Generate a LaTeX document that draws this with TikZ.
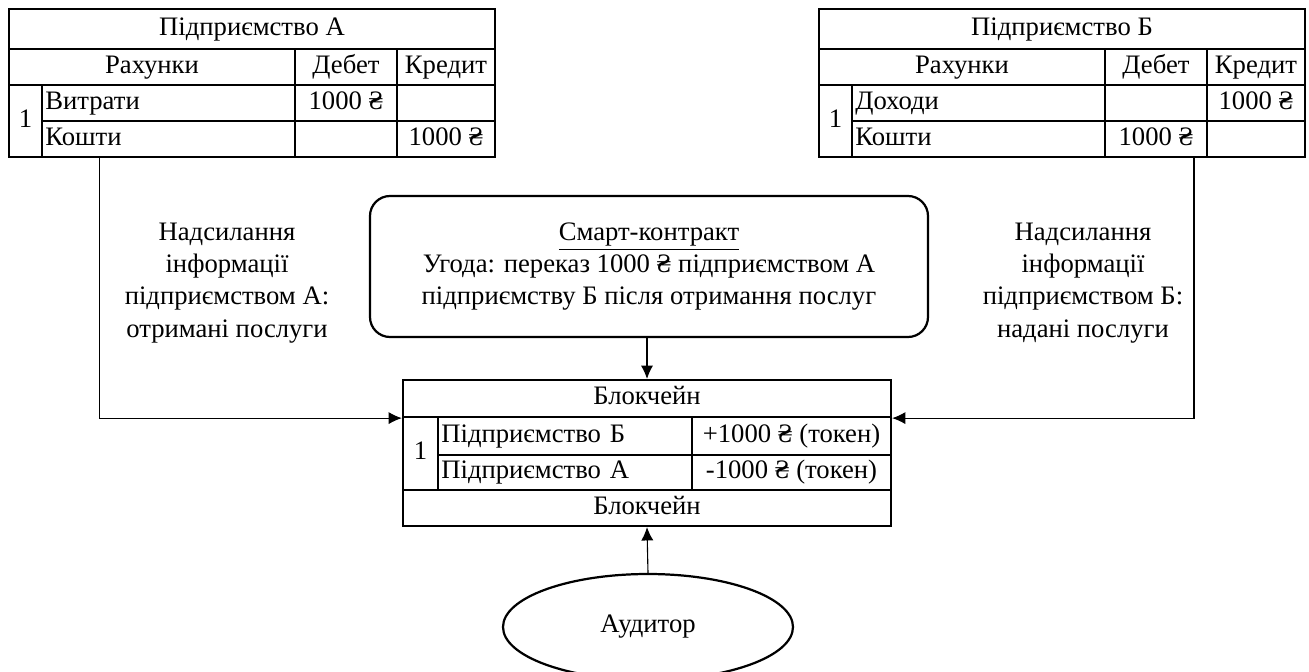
\documentclass[tikz,border=0pt,12pt]{standalone}
\usepackage{fontspec}
\setmainfont{Liberation Serif}
\usepackage{tikz}
\usetikzlibrary{shapes.geometric,arrows.meta}

\begin{document}
\begin{tikzpicture}[x=0.45pt, y=-0.45pt,
		cell/.style={draw, line width=1pt, inner sep=1.5pt, minimum height=16.2pt, text height=8.2pt, text depth=2.6pt, text centered},
		lcell/.style={cell, text width=#1, align=left},
		arr/.style={-{Latex[length=6pt,width=5.5pt]}, line width=0.5pt}]
	\useasboundingbox (0,0) rectangle (1309,672);
	% enterprise A
	\node[cell, minimum width=218.7pt, minimum height=18pt] (aTitle) at (252,29) {Підприємство А};
	\node[cell, minimum width=128.7pt] (aAcc) at (152,67) {Рахунки};
	\node[cell, minimum width=45.9pt] (aDeb) at (346,67) {Дебет};
	\node[cell, minimum width=44.1pt] (aCred) at (446,67) {Кредит};
	\node[cell, minimum width=14.85pt, minimum height=32.4pt] (aNum) at (25.5,121) {1};
	\node[lcell=110.85pt] (aR1) at (168.5,103) {Витрати};
	\node[cell, minimum width=45.9pt] (aR1d) at (346,103) {1000 ₴};
	\node[cell, minimum width=44.1pt] (aR1c) at (446,103) {};
	\node[lcell=110.85pt] (aR2) at (168.5,139) {Кошти};
	\node[cell, minimum width=45.9pt] (aR2d) at (346,139) {};
	\node[cell, minimum width=44.1pt] (aR2c) at (446,139) {1000 ₴};
	% enterprise B
	\node[cell, minimum width=218.7pt, minimum height=18pt] (bTitle) at (1062,29) {Підприємство Б};
	\node[cell, minimum width=128.7pt] (bAcc) at (962,67) {Рахунки};
	\node[cell, minimum width=45.9pt] (bDeb) at (1156,67) {Дебет};
	\node[cell, minimum width=44.1pt] (bCred) at (1256,67) {Кредит};
	\node[cell, minimum width=14.85pt, minimum height=32.4pt] (bNum) at (835.5,121) {1};
	\node[lcell=110.85pt] (bR1) at (978.5,103) {Доходи};
	\node[cell, minimum width=45.9pt] (bR1d) at (1156,103) {};
	\node[cell, minimum width=44.1pt] (bR1c) at (1256,103) {1000 ₴};
	\node[lcell=110.85pt] (bR2) at (978.5,139) {Кошти};
	\node[cell, minimum width=45.9pt] (bR2d) at (1156,139) {1000 ₴};
	\node[cell, minimum width=44.1pt] (bR2c) at (1256,139) {};
	% smart contract
	\node[draw, line width=1pt, rounded corners=9pt, minimum width=251.1pt, minimum height=63.45pt, align=center] (smart) at (649,266.5) {\underline{Смарт-контракт}\\Угода: переказ 1000 ₴ підприємством А\\підприємству Б після отримання послуг};
	% blockchain
	\node[cell, minimum width=219.6pt, minimum height=16.65pt] (bcTop) at (647,398.5) {Блокчейн};
	\node[cell, minimum width=15.75pt, minimum height=32.85pt] (bcNum) at (420.5,453.5) {1};
	\node[lcell=111.3pt, minimum height=17.1pt] (bcR1) at (565,436) {Підприємство Б};
	\node[cell, minimum width=89.55pt, minimum height=17.1pt] (bcR1v) at (791.5,436) {+1000 ₴ (токен)};
	\node[lcell=111.3pt, minimum height=15.75pt] (bcR2) at (565,472.5) {Підприємство А};
	\node[cell, minimum width=89.55pt, minimum height=15.75pt] (bcR2v) at (791.5,472.5) {-1000 ₴ (токен)};
	\node[cell, minimum width=219.6pt] (bcBot) at (647,508) {Блокчейн};
	% auditor
	\node[draw, ellipse, line width=1pt, minimum width=130.5pt, minimum height=47.7pt] (aud) at (648,627) {Аудитор};
	% labels
	\node[align=center] (sendA) at (227,283) {Надсилання\\інформації\\підприємством А:\\отримані послуги};
	\node[align=center] (sendB) at (1083,283) {Надсилання\\інформації\\підприємством Б:\\надані послуги};
	% connectors
	\draw[arr] ([xshift=26.55pt]aR2.south west) |- (bcTop.south west);
	\draw[arr] ([xshift=17.1pt]bR2d.south) |- (bcTop.south east);
	\draw[arr] (smart.south -| bcTop.north) -- (bcTop.north);
	\draw[arr] (aud.north) -- (bcBot.south);
\end{tikzpicture}
\end{document}
